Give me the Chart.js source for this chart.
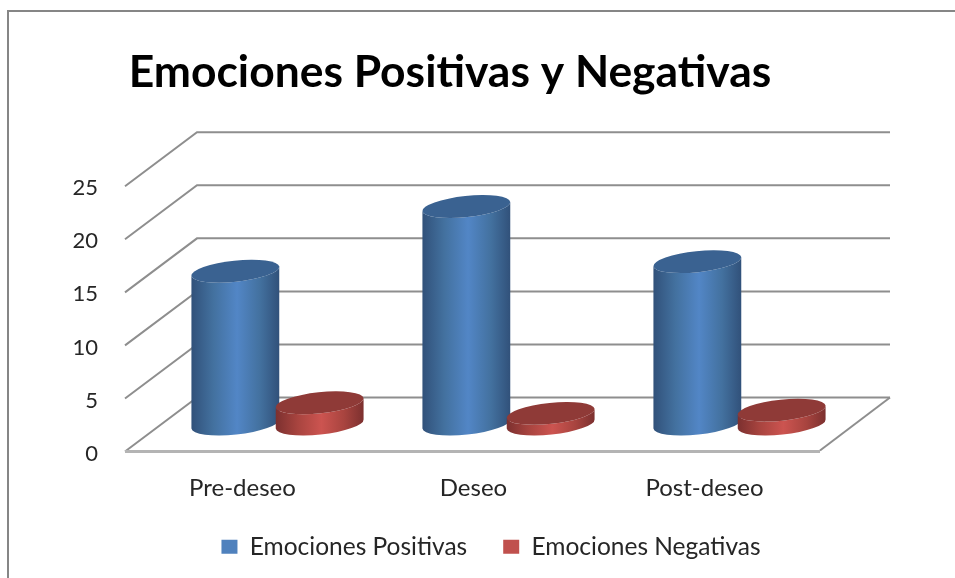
<!DOCTYPE html>
<html>
<head>
<meta charset="utf-8">
<title>Emociones Positivas y Negativas</title>
<script src="https://cdn.jsdelivr.net/npm/chart.js@4"></script>
<style>
  html, body { margin: 0; padding: 0; background: #fff; overflow: hidden; }
  #frame { position: absolute; left: 7px; top: 10px; right: 0; bottom: 0; border-left: 2px solid #868686; border-top: 2px solid #868686; }
  #wrap { position: absolute; left: 0; top: 0; width: 955px; height: 578px; }
</style>
</head>
<body>
<div id="frame"></div>
<div id="wrap"><canvas id="chart" width="955" height="578"></canvas></div>
<script>
const categories = ["Pre-deseo", "Deseo", "Post-deseo"];
const positivas = [14.4, 20.5, 15.3];
const negativas = [2, 1, 1.3];
const titleText = "Emociones Positivas y Negativas";

const depthX = 70;
const depthY = 53;
const fontName = "Lato, Carlito, sans-serif";

// the colours of the side of each cylinder, edge to centre, and its lid
const looks = [
  { edge: "#31517a", mid: "#43719f", light: "#5286c6", top: "#3a6291" },
  { edge: "#7c302f", mid: "#a8443f", light: "#cc5450", top: "#8f3a37" },
];

function drawWalls(chart) {
  const { ctx, chartArea, scales } = chart;
  const { left, right } = chartArea;
  ctx.save();
  ctx.strokeStyle = "#8e8e8e";
  ctx.lineWidth = 2;
  scales.y.ticks.forEach((t) => {
    const y = scales.y.getPixelForValue(t.value);
    ctx.beginPath();
    ctx.moveTo(left - 2, y + 1);
    ctx.lineTo(left + depthX, y - depthY);
    ctx.lineTo(right + depthX, y - depthY);
    ctx.stroke();
  });
  // floor edges
  const y0 = scales.y.getPixelForValue(0);
  ctx.beginPath();
  ctx.moveTo(right + depthX, y0 - depthY);
  ctx.lineTo(right, y0);
  ctx.stroke();
  ctx.strokeStyle = "#b4b4b4";
  ctx.lineWidth = 3;
  ctx.beginPath();
  ctx.moveTo(left - 2, y0 + 1);
  ctx.lineTo(right, y0 + 1);
  ctx.stroke();
  ctx.restore();
}

function drawCylinder(ctx, bar, look) {
  const rx = bar.width / 2 + 2;
  const ry = 10.5;
  const tilt = (-6 * Math.PI) / 180;
  const cx = bar.x + depthX / 2;
  const baseY = bar.base - depthY / 2;
  const topY = bar.y - depthY / 2;
  const dx = rx * Math.cos(tilt);
  const dy = rx * Math.sin(tilt);

  const grad = ctx.createLinearGradient(cx - dx, 0, cx + dx, 0);
  grad.addColorStop(0, look.edge);
  grad.addColorStop(0.25, look.mid);
  grad.addColorStop(0.52, look.light);
  grad.addColorStop(0.78, look.mid);
  grad.addColorStop(1, look.edge);

  ctx.beginPath();
  ctx.moveTo(cx - dx, topY - dy);
  ctx.lineTo(cx - dx, baseY - dy);
  ctx.ellipse(cx, baseY, rx, ry, tilt, Math.PI, 0, true);
  ctx.lineTo(cx + dx, topY + dy);
  ctx.ellipse(cx, topY, rx, ry, tilt, 0, Math.PI, false);
  ctx.closePath();
  ctx.fillStyle = grad;
  ctx.fill();

  ctx.beginPath();
  ctx.ellipse(cx, topY, rx, ry, tilt, 0, Math.PI * 2);
  ctx.fillStyle = look.top;
  ctx.fill();
}

const cylinders = {
  id: "cylinders",
  afterLayout(chart) {
    // title and legend are not centred on the plot in the original
    chart.titleBlock.left += 40;
    chart.titleBlock.right += 40;
    chart.legend.left += 81;
    chart.legend.right += 81;
    chart.legend.top -= 9;
    chart.legend.bottom -= 9;
  },
  afterUpdate(chart) {
    // y labels sit a little under their gridline
    chart.scales.y.getLabelItems().forEach((item) => {
      item.options.translation[1] += 3;
    });
  },
  beforeDatasetsDraw(chart) {
    drawWalls(chart);
    const ctx = chart.ctx;
    ctx.save();
    chart.data.datasets.forEach((ds, i) => {
      chart.getDatasetMeta(i).data.forEach((bar) => drawCylinder(ctx, bar, looks[i]));
    });
    ctx.restore();
    return false;
  },
};

new Chart(document.getElementById("chart").getContext("2d"), {
  type: "bar",
  data: {
    labels: categories,
    datasets: [
      { label: "Emociones Positivas", data: positivas, backgroundColor: "#4f81bd" },
      { label: "Emociones Negativas", data: negativas, backgroundColor: "#c0504d" },
    ],
  },
  options: {
    responsive: false,
    animation: false,
    layout: { padding: { left: 0, right: 135, top: 0, bottom: 0 } },
    datasets: { bar: { categoryPercentage: 0.73, barPercentage: 1 } },
    scales: {
      x: {
        grid: { display: false, drawTicks: false },
        border: { display: false },
        ticks: { color: "#262626", padding: 23, font: { family: fontName, size: 24 } },
        afterFit: (s) => { s.height = 57; },
      },
      y: {
        min: 0,
        max: 25,
        ticks: { stepSize: 5, color: "#262626", padding: 29, font: { family: fontName, size: 22 } },
        grid: { display: false, drawTicks: false },
        border: { display: false },
        afterFit: (s) => { s.width = 127; },
      },
    },
    plugins: {
      title: {
        display: true,
        text: titleText,
        color: "#000",
        font: { family: fontName, size: 44.4, weight: "bold" },
        padding: { top: 46, bottom: 86 },
      },
      legend: {
        position: "bottom",
        labels: {
          color: "#262626",
          boxWidth: 16,
          boxHeight: 14,
          padding: 36,
          font: { family: fontName, size: 24.5 },
        },
      },
      tooltip: { enabled: false },
    },
  },
  plugins: [cylinders],
});
</script>
</body>
</html>
